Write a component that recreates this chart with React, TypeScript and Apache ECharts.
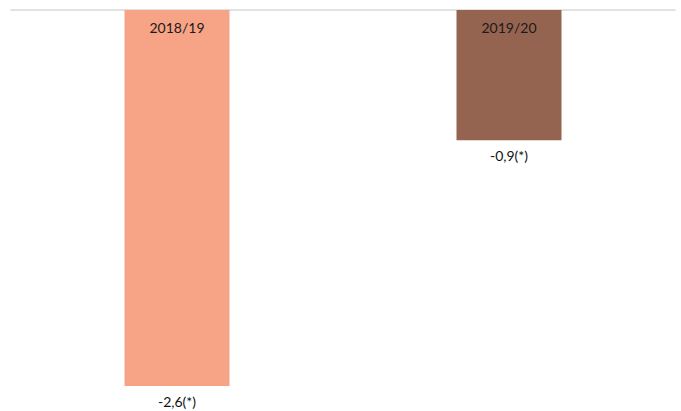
import React, { useEffect, useRef } from "react";
import * as echarts from "echarts";

const categories = ["2018/19", "2019/20"];
const values = [-2.6, -0.9];
const valueLabels = ["-2,6(*)", "-0,9(*)"];
const colors = ["#F7A386", "#946450"];

export default function App() {
  const ref = useRef<HTMLDivElement>(null);
  useEffect(() => {
    if (!ref.current) return;
    const chart = echarts.init(ref.current, null, { renderer: "svg" });
    const font = "Lato, 'DejaVu Sans', sans-serif";
    chart.setOption({
      animation: false,
      backgroundColor: "#ffffff",
      grid: { left: 11, top: 10, width: 664, height: 376, containLabel: false },
      xAxis: {
        type: "category",
        position: "top",
        data: categories,
        axisLine: { show: true, lineStyle: { color: "#d9d9d9", width: 1.5 } },
        axisTick: { show: false },
        axisLabel: { show: false },
        splitLine: { show: false },
      },
      yAxis: {
        type: "value",
        min: -2.6,
        max: 0,
        show: false,
        splitLine: { show: false },
      },
      series: [
        {
          type: "bar",
          barWidth: 105,
          data: values.map((v, i) => ({
            value: v,
            itemStyle: { color: colors[i] },
            label: { formatter: valueLabels[i] },
          })),
          label: {
            show: true,
            position: "bottom",
            distance: 8,
            color: "#111",
            fontSize: 14,
            fontFamily: font,
          },
        },
        {
          type: "bar",
          barWidth: 105,
          barGap: "-100%",
          z: 5,
          itemStyle: { color: "transparent" },
          data: values.map((v, i) => ({ value: v, label: { formatter: categories[i] } })),
          label: {
            show: true,
            position: "insideTop",
            distance: 10,
            color: "#1a1a1a",
            fontSize: 14,
            fontFamily: font,
          },
          silent: true,
        },
      ],
    });
    return () => chart.dispose();
  }, []);
  return (
    <div
      ref={ref}
      style={{ position: "fixed", left: 0, top: 0, width: 681, height: 411 }}
    />
  );
}
